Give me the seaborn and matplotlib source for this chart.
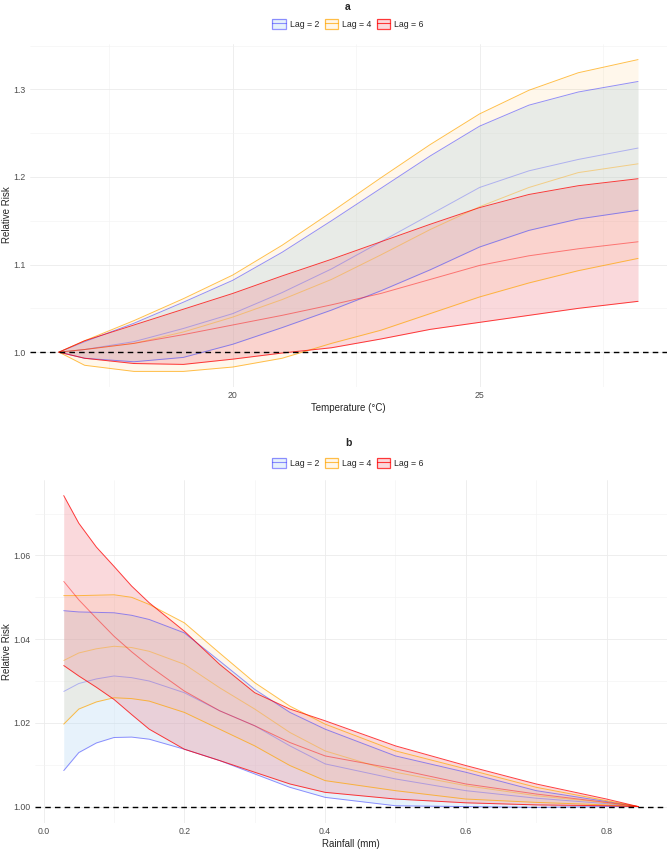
import matplotlib
matplotlib.use("Agg")
import matplotlib.pyplot as plt
from matplotlib.patches import Patch
from matplotlib.lines import Line2D
import pandas as pd
import seaborn as sns

lags = ["Lag = 2", "Lag = 4", "Lag = 6"]
line_colors = ["#3a3aff", "#ffa500", "#ff0000"]
line_alphas = [0.55, 0.7, 0.75]
fill_colors = ["#b2d7f5", "#ffa500", "#f0828c"]
fill_alphas = [0.3, 0.08, 0.3]

# panel a: temperature
temp = [16.48, 17, 18, 19, 20, 21, 22, 23, 24, 25, 26, 27, 28.21]
temp_lag2_lo = [1.0, 0.993, 0.989, 0.994, 1.009, 1.028, 1.048, 1.070, 1.094, 1.120, 1.139, 1.152, 1.162]
temp_lag2_rr = [1.0, 1.003, 1.012, 1.027, 1.044, 1.068, 1.095, 1.126, 1.157, 1.188, 1.207, 1.220, 1.233]
temp_lag2_hi = [1.0, 1.012, 1.033, 1.057, 1.082, 1.114, 1.150, 1.187, 1.224, 1.258, 1.282, 1.297, 1.309]
temp_lag4_lo = [1.0, 0.985, 0.978, 0.978, 0.983, 0.993, 1.010, 1.025, 1.044, 1.063, 1.079, 1.093, 1.107]
temp_lag4_rr = [1.0, 1.003, 1.010, 1.023, 1.040, 1.060, 1.083, 1.111, 1.140, 1.166, 1.188, 1.205, 1.215]
temp_lag4_hi = [1.0, 1.013, 1.036, 1.061, 1.088, 1.122, 1.160, 1.199, 1.237, 1.272, 1.299, 1.319, 1.334]
temp_lag6_lo = [1.0, 0.993, 0.987, 0.986, 0.992, 0.999, 1.005, 1.015, 1.026, 1.034, 1.042, 1.050, 1.058]
temp_lag6_rr = [1.0, 1.003, 1.010, 1.020, 1.031, 1.042, 1.054, 1.067, 1.083, 1.099, 1.110, 1.118, 1.126]
temp_lag6_hi = [1.0, 1.013, 1.031, 1.049, 1.067, 1.087, 1.106, 1.126, 1.146, 1.165, 1.180, 1.190, 1.198]

# panel b: rainfall
rain = [0.0286, 0.05, 0.075, 0.1, 0.125, 0.15, 0.2, 0.25, 0.3, 0.35, 0.4, 0.5, 0.6, 0.7, 0.8, 0.845]
rain_lag2_lo = [1.0086, 1.0129, 1.0152, 1.0165, 1.0166, 1.0161, 1.0137, 1.0110, 1.0078, 1.0046, 1.0022, 1.0002, 1.0000, 0.9998, 1.0000, 1.0]
rain_lag2_rr = [1.0275, 1.0294, 1.0305, 1.0312, 1.0308, 1.0300, 1.0272, 1.0229, 1.0193, 1.0145, 1.0102, 1.0066, 1.0038, 1.0020, 1.0007, 1.0]
rain_lag2_hi = [1.0468, 1.0465, 1.0464, 1.0463, 1.0457, 1.0447, 1.0415, 1.0348, 1.0280, 1.0225, 1.0185, 1.0121, 1.0082, 1.0038, 1.0012, 1.0]
rain_lag4_lo = [1.0197, 1.0233, 1.0250, 1.0260, 1.0258, 1.0252, 1.0225, 1.0185, 1.0145, 1.0098, 1.0062, 1.0038, 1.0018, 1.0010, 1.0004, 1.0]
rain_lag4_rr = [1.0349, 1.0367, 1.0377, 1.0383, 1.0380, 1.0371, 1.0340, 1.0284, 1.0233, 1.0177, 1.0133, 1.0082, 1.0050, 1.0026, 1.0009, 1.0]
rain_lag4_hi = [1.0504, 1.0504, 1.0505, 1.0506, 1.0500, 1.0483, 1.0439, 1.0367, 1.0296, 1.0240, 1.0197, 1.0133, 1.0090, 1.0046, 1.0014, 1.0]
rain_lag6_lo = [1.0337, 1.0312, 1.0285, 1.0256, 1.0220, 1.0185, 1.0137, 1.0110, 1.0082, 1.0054, 1.0034, 1.0018, 1.0009, 1.0004, 1.0002, 1.0]
rain_lag6_rr = [1.0538, 1.0494, 1.0450, 1.0407, 1.0370, 1.0336, 1.0276, 1.0229, 1.0193, 1.0153, 1.0121, 1.0090, 1.0054, 1.0030, 1.0010, 1.0]
rain_lag6_hi = [1.0743, 1.0677, 1.0620, 1.0574, 1.0527, 1.0487, 1.0419, 1.0340, 1.0272, 1.0233, 1.0205, 1.0145, 1.0098, 1.0054, 1.0018, 1.0]

temp_bands = [(temp_lag2_lo, temp_lag2_rr, temp_lag2_hi),
              (temp_lag4_lo, temp_lag4_rr, temp_lag4_hi),
              (temp_lag6_lo, temp_lag6_rr, temp_lag6_hi)]
rain_bands = [(rain_lag2_lo, rain_lag2_rr, rain_lag2_hi),
              (rain_lag4_lo, rain_lag4_rr, rain_lag4_hi),
              (rain_lag6_lo, rain_lag6_rr, rain_lag6_hi)]

sns.set_style("white")
plt.rcParams["font.family"] = ["Liberation Sans", "DejaVu Sans"]

fig = plt.figure(figsize=(6.71, 8.52), dpi=100)
ax_a = fig.add_axes([30 / 671, 1 - 387 / 852, 637 / 671, 343 / 852])
ax_b = fig.add_axes([35 / 671, 1 - 823 / 852, 632 / 671, 343 / 852])


def long_df(x, bands):
    rows = []
    for lag, (lo, rr, hi) in zip(lags, bands):
        for name, vals in (("lo", lo), ("rr", rr), ("hi", hi)):
            for xv, yv in zip(x, vals):
                rows.append({"x": xv, "y": yv, "lag": lag, "bound": name})
    return pd.DataFrame(rows)


def draw_panel(ax, x, bands, xticks, xminor, yticks, yminor, ylabels, xlabel):
    for (lo, rr, hi), fc, fa in zip(bands, fill_colors, fill_alphas):
        ax.fill_between(x, lo, hi, color=fc, alpha=fa, lw=0)
    df = long_df(x, bands)
    for lag, lc, la in zip(lags, line_colors, line_alphas):
        sub = df[df.lag == lag]
        sns.lineplot(data=sub[sub.bound != "rr"], x="x", y="y", units="bound",
                     estimator=None, color=lc, lw=0.7, alpha=la, legend=False, ax=ax)
        sns.lineplot(data=sub[sub.bound == "rr"], x="x", y="y",
                     estimator=None, color=lc, lw=0.7, alpha=la * 0.6, legend=False, ax=ax)
    ax.axhline(1.0, color="black", ls=(0, (4, 3)), lw=1.0, zorder=5)

    xr = max(x) - min(x)
    ax.set_xlim(min(x) - 0.05 * xr, max(x) + 0.05 * xr)
    ys = [v for b in bands for arr in b for v in arr]
    yr = max(ys) - min(ys)
    ax.set_ylim(min(ys) - 0.05 * yr, max(ys) + 0.05 * yr)

    ax.set_xticks(xticks)
    ax.set_xticks(xminor, minor=True)
    ax.set_yticks(yticks)
    ax.set_yticks(yminor, minor=True)
    ax.set_yticklabels(ylabels)
    ax.grid(which="major", color="#ebebeb", lw=0.6)
    ax.grid(which="minor", color="#f2f2f2", lw=0.4)
    ax.set_axisbelow(True)
    for s in ax.spines.values():
        s.set_visible(False)
    ax.tick_params(which="both", length=0, labelsize=6.3, labelcolor="#4d4d4d", pad=3)
    ax.set_xlabel(xlabel, fontsize=7, labelpad=2)
    ax.set_ylabel("Relative Risk", fontsize=7)


draw_panel(ax_a, temp, temp_bands, [20, 25], [17.5, 22.5, 27.5],
           [1.0, 1.1, 1.2, 1.3], [1.05, 1.15, 1.25, 1.35],
           ["1.0", "1.1", "1.2", "1.3"], "Temperature (°C)")
ax_a.set_xticklabels(["20", "25"])
ax_a.yaxis.set_label_coords(12 / 671, 1 - 215 / 852, transform=fig.transFigure)

draw_panel(ax_b, rain, rain_bands, [0.0, 0.2, 0.4, 0.6, 0.8], [0.1, 0.3, 0.5, 0.7],
           [1.00, 1.02, 1.04, 1.06], [1.01, 1.03, 1.05, 1.07],
           ["1.00", "1.02", "1.04", "1.06"], "Rainfall (mm)")
ax_b.set_xticklabels(["0.0", "0.2", "0.4", "0.6", "0.8"])
ax_b.yaxis.set_label_coords(12 / 671, 1 - 652 / 852, transform=fig.transFigure)

handles = []
for lc, la, fc, fa in zip(line_colors, line_alphas, fill_colors, fill_alphas):
    handles.append((Patch(facecolor=fc, alpha=fa, edgecolor="none"),
                    Patch(facecolor="none", edgecolor=lc, alpha=la, lw=0.9),
                    Line2D([], [], color=lc, alpha=la, lw=0.8)))

for title, ty, ly in (("a", 7, 24), ("b", 443, 463)):
    fig.text(348 / 671, 1 - ty / 852, title, ha="center", va="center",
             fontsize=7.5, fontweight="bold")
    fig.legend(handles, lags, loc="center", bbox_to_anchor=(348 / 671, 1 - ly / 852),
               ncol=3, frameon=False, fontsize=6.3, handlelength=1.5, handleheight=1.5,
               handletextpad=0.5, columnspacing=0.6, borderpad=0)

fig.savefig("out.png", dpi=100)
